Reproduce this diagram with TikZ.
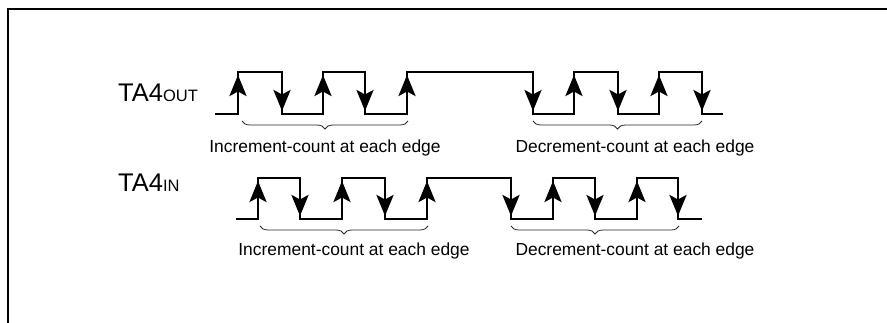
\documentclass[tikz,border=0pt]{standalone}
\usepackage{fontspec}
\setmainfont{Liberation Sans}
\usetikzlibrary{arrows.meta,decorations.pathreplacing}
\tikzset{
  sig/.style={line width=2.8pt, line join=miter},
  edgearrow/.style={line width=2.8pt, -{Stealth[length=21pt,width=17pt,inset=4.5pt]}},
  bracedeco/.style={decorate, decoration={brace, mirror, amplitude=8pt}, line width=0.8pt, black!85},
  lbl/.style={inner sep=0pt, anchor=base, font=\fontsize{17.4}{20}\selectfont},
  siglbl/.style={inner sep=0pt, anchor=base west, font=\fontsize{25.5}{28}\selectfont},
  frame/.style={line width=2.5pt}
}
\begin{document}
\begin{tikzpicture}[x=1pt,y=-1pt]
\useasboundingbox (0,0) rectangle (887,323);
% frame
\draw[frame] (8,323) -- (8,9) -- (887,9);
% labels
\node[siglbl] (lout) at (118,102) {TA4{\fontsize{16.5}{18}\selectfont OUT}};
\node[siglbl] (lin) at (118,192) {TA4{\fontsize{16.5}{18}\selectfont IN}};
% TA4OUT waveform
\draw[sig] (215,114) -- (238,114) -- (238,72) -- (282,72) -- (282,114) -- (323,114) -- (323,72) -- (365,72) -- (365,114) -- (407,114) -- (407,72) -- (533,72) -- (533,114) -- (574,114) -- (574,72) -- (618,72) -- (618,114) -- (659,114) -- (659,72) -- (702,72) -- (702,114) -- (723,114);
\foreach \x in {238,323,407,574,659} \draw[edgearrow] (\x,113) -- (\x,75);
\foreach \x in {282,365,533,618,702} \draw[edgearrow] (\x,73) -- (\x,111);
\draw[bracedeco] (242,121) -- (408,121);
\draw[bracedeco] (533,121) -- (702,121);
\node[lbl] (incA) at (325,153) {Increment-count at each edge};
\node[lbl] (decA) at (635,153) {Decrement-count at each edge};
% TA4IN waveform
\draw[sig] (236,219) -- (258,219) -- (258,178) -- (300,178) -- (300,219) -- (342,219) -- (342,178) -- (385,178) -- (385,219) -- (427,219) -- (427,178) -- (511,178) -- (511,219) -- (553,219) -- (553,178) -- (595,178) -- (595,219) -- (637,219) -- (637,178) -- (678,178) -- (678,219) -- (702,219);
\foreach \x in {258,342,427,553,637} \draw[edgearrow] (\x,218) -- (\x,181);
\foreach \x in {300,385,511,595,678} \draw[edgearrow] (\x,179) -- (\x,216);
\draw[bracedeco] (260,226) -- (428,226);
\draw[bracedeco] (511,226) -- (679,226);
\node[lbl] (incB) at (354,256) {Increment-count at each edge};
\node[lbl] (decB) at (635,256) {Decrement-count at each edge};
\end{tikzpicture}
\end{document}
